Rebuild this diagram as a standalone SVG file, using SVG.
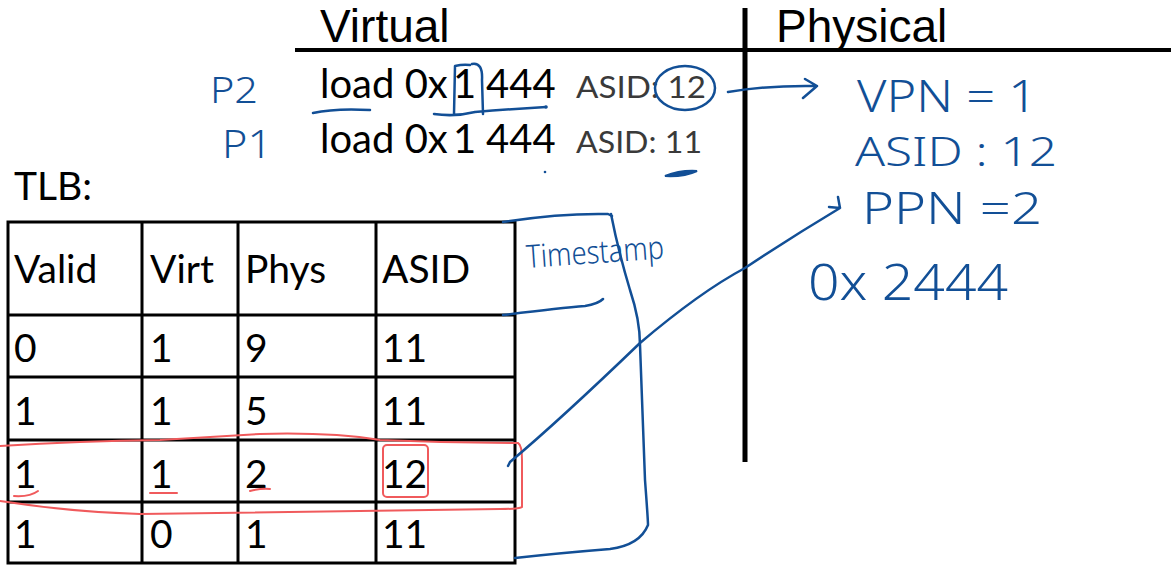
<svg xmlns="http://www.w3.org/2000/svg" width="1171" height="565" viewBox="0 0 1171 565">
<defs>
<style>
.hdr{font-family:"Liberation Sans",Arial,sans-serif;font-size:46px;fill:#000}
.load{font-family:Lato,"Liberation Sans",sans-serif;font-size:40px;fill:#000}
.asid{font-family:Lato,"Liberation Sans",sans-serif;font-size:30px;fill:#3a3a3a}
.cell{font-family:Lato,"Liberation Sans",sans-serif;font-size:39px;fill:#000}
.hand{font-family:"Noto Sans","DejaVu Sans",sans-serif;font-weight:300;fill:#124f96}
.grid{stroke:#000;stroke-width:3;fill:none}
.blue{stroke:#124f96;stroke-width:2.5;fill:none;stroke-linecap:round;stroke-linejoin:round}
.red{stroke:#f05a5c;stroke-width:2;fill:none;stroke-linecap:round;stroke-linejoin:round}
</style>
</defs>
<rect width="1171" height="565" fill="#fff"/>

<g id="axes">
<line x1="295" y1="50" x2="1171" y2="50" stroke="#000" stroke-width="4"/>
<line x1="745" y1="8" x2="745" y2="462" stroke="#000" stroke-width="5"/>
<text class="hdr" x="320" y="42">Virtual</text>
<text class="hdr" x="776" y="42">Physical</text>
</g>

<g id="virtual-loads">
<text class="load" y="98"><tspan x="320">load 0x</tspan><tspan x="453">1</tspan><tspan x="486">444</tspan></text>
<text class="asid" x="576" y="98" textLength="130" lengthAdjust="spacingAndGlyphs">ASID: 12</text>
<text class="load" y="153"><tspan x="320">load 0x</tspan><tspan x="453">1</tspan><tspan x="486">444</tspan></text>
<text class="asid" x="576" y="153" textLength="126" lengthAdjust="spacingAndGlyphs">ASID: 11</text>
</g>

<g id="process-labels">
<text class="hand" x="210" y="103" font-size="36" textLength="48" lengthAdjust="spacingAndGlyphs">P2</text>
<text class="hand" x="222" y="158" font-size="38" textLength="50" lengthAdjust="spacingAndGlyphs">P1</text>
</g>

<g id="tlb">
<text class="cell" x="14" y="200">TLB:</text>
<rect class="grid" x="8" y="222" width="507" height="341"/>
<line class="grid" x1="8" y1="315" x2="515" y2="315"/>
<line class="grid" x1="8" y1="377" x2="515" y2="377"/>
<line class="grid" x1="8" y1="440" x2="515" y2="440"/>
<line class="grid" x1="8" y1="502" x2="515" y2="502"/>
<line class="grid" x1="142" y1="222" x2="142" y2="563"/>
<line class="grid" x1="238" y1="222" x2="238" y2="563"/>
<line class="grid" x1="376" y1="222" x2="376" y2="563"/>
<text class="cell" x="14" y="283">Valid</text>
<text class="cell" x="150" y="283">Virt</text>
<text class="cell" x="245" y="283">Phys</text>
<text class="cell" x="382" y="283">ASID</text>
<text class="cell" x="14" y="362">0</text>
<text class="cell" x="150" y="362">1</text>
<text class="cell" x="245" y="362">9</text>
<text class="cell" x="382" y="362">11</text>
<text class="cell" x="14" y="425">1</text>
<text class="cell" x="150" y="425">1</text>
<text class="cell" x="245" y="425">5</text>
<text class="cell" x="382" y="425">11</text>
<text class="cell" x="14" y="488">1</text>
<text class="cell" x="150" y="488">1</text>
<text class="cell" x="245" y="488">2</text>
<text class="cell" x="382" y="488">12</text>
<text class="cell" x="14" y="548">1</text>
<text class="cell" x="150" y="548">0</text>
<text class="cell" x="245" y="548">1</text>
<text class="cell" x="382" y="548">11</text>
</g>

<g id="timestamp">
<text class="hand" x="527" y="268" font-size="32" textLength="138" lengthAdjust="spacingAndGlyphs" transform="rotate(-4 527 268)">Timestamp</text>
</g>

<g id="physical-notes">
<text class="hand" x="857" y="112" font-size="44" textLength="180" lengthAdjust="spacingAndGlyphs">VPN =  1</text>
<text class="hand" x="855" y="166" font-size="40" textLength="202" lengthAdjust="spacingAndGlyphs">ASID : 12</text>
<text class="hand" x="862" y="224" font-size="44" textLength="180" lengthAdjust="spacingAndGlyphs">PPN  =2</text>
<text class="hand" x="808" y="300" font-size="50" textLength="200" lengthAdjust="spacingAndGlyphs">0x 2444</text>
</g>

<g id="blue-marks">
<path class="blue" d="M313 113 Q335 108 370 110"/>
<path class="blue" d="M454 114 L455 66 Q463 64 470 65 M472 64 Q483 62 482 80 L483 114 M434 114 Q455 117 475 112 Q510 109 546 107"/>
<circle cx="546" cy="107" r="1.8" fill="#124f96"/>
<ellipse class="blue" cx="685" cy="88" rx="30" ry="22"/>
<circle cx="545" cy="172" r="1.3" fill="#124f96"/>
<path d="M665 176 Q680 170 697 171 Q684 177 665 176Z" fill="#124f96" stroke="#124f96" stroke-width="2"/>
<path class="blue" d="M503 222 Q560 213 608 214 L612 216"/>
<path class="blue" d="M503 315 Q560 308 585 306 Q598 304 603 299"/>
<path class="blue" d="M611 214 Q618 250 630 290 Q640 320 640 345 Q643 420 645 480 Q648 520 648 525 Q640 545 610 549 Q560 553 515 558"/>
</g>

<g id="red-marks">
<path class="red" d="M0 446 Q80 441 160 440 Q230 436 260 434 Q330 432 380 440 Q450 443 518 443 Q522 445 522 460 L522 507 Q520 509 500 509 Q320 511 140 514 Q70 512 0 501"/>
<rect class="red" x="383" y="445" width="45" height="52" rx="4"/>
<path class="red" d="M14 496 Q30 497 38 491"/>
<path class="red" d="M150 493 L177 493"/>
<path class="red" d="M250 491 Q262 488 270 489"/>
</g>

<g id="connectors">
<path class="blue" d="M728 92 Q770 85 817 86 M805 79 L817 86 L803 98"/>
<path class="blue" d="M508 466 L510 462 Q560 420 640 343 Q700 292 745 268 Q790 238 840 208 M829 207 L840 208 L838 197"/>
</g>
</svg>
